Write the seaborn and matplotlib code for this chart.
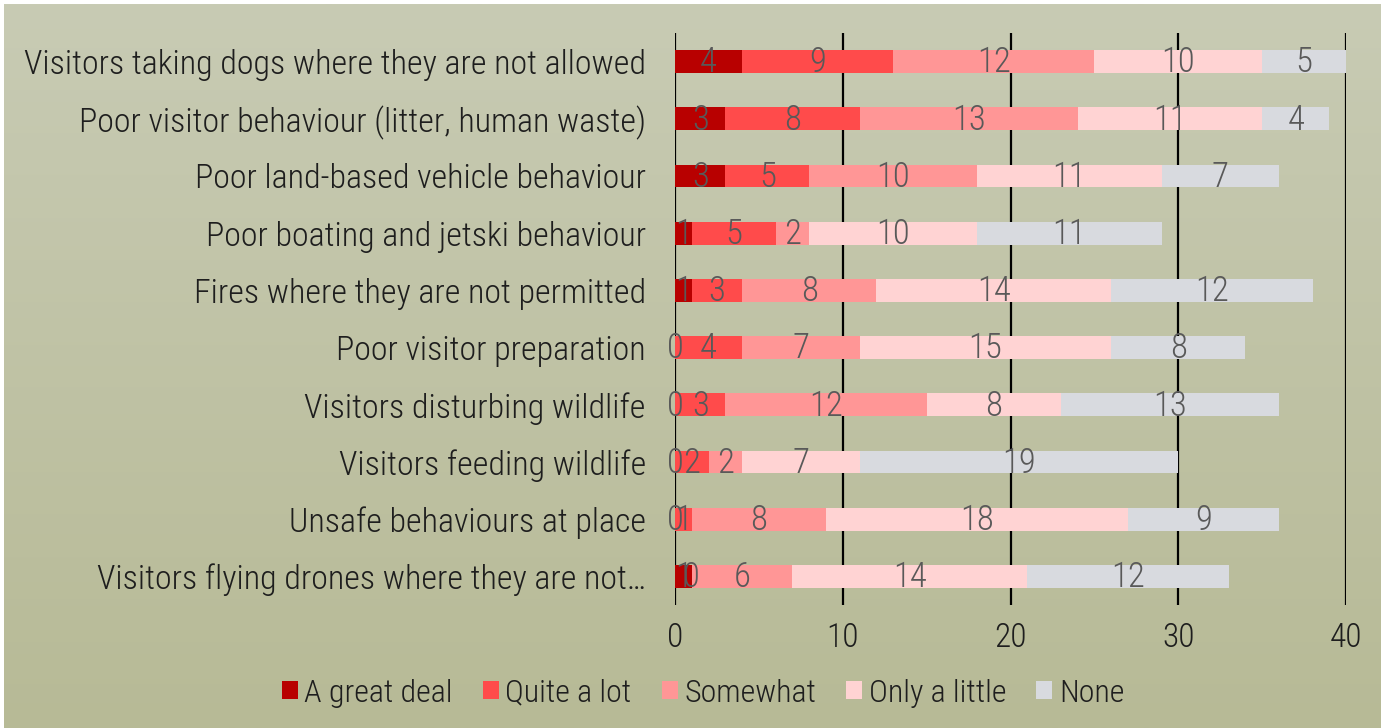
import numpy as np
import pandas as pd
import matplotlib.pyplot as plt
import seaborn as sns
from matplotlib.patches import Patch

# chart data
categories = [
    "Visitors taking dogs where they are not allowed",
    "Poor visitor behaviour (litter, human waste)",
    "Poor land-based vehicle behaviour",
    "Poor boating and jetski behaviour",
    "Fires where they are not permitted",
    "Poor visitor preparation",
    "Visitors disturbing wildlife",
    "Visitors feeding wildlife",
    "Unsafe behaviours at place",
    "Visitors flying drones where they are not\u2026",
]
great_deal = [4, 3, 3, 1, 1, 0, 0, 0, 0, 1]
quite_a_lot = [9, 8, 5, 5, 3, 4, 3, 2, 1, 0]
somewhat = [12, 13, 10, 2, 8, 7, 12, 2, 8, 6]
only_a_little = [10, 11, 11, 10, 14, 15, 8, 7, 18, 14]
none = [5, 4, 7, 11, 12, 8, 13, 19, 9, 12]

series_names = ["A great deal", "Quite a lot", "Somewhat", "Only a little", "None"]
colors = ["#B80000", "#FF4B4B", "#FF9696", "#FFD3D3", "#D8DADF"]

data = pd.DataFrame({
    "Category": categories,
    "A great deal": great_deal,
    "Quite a lot": quite_a_lot,
    "Somewhat": somewhat,
    "Only a little": only_a_little,
    "None": none,
})

plt.rcParams["font.family"] = ["Roboto Condensed", "Archivo Narrow",
                               "Liberation Sans", "DejaVu Sans"]
plt.rcParams["font.weight"] = "light"

fig = plt.figure(figsize=(13.81, 7.28), dpi=100)
fig.patch.set_facecolor("white")

# gradient background
bg = fig.add_axes([0.003, 0, 0.997, 0.994], zorder=-1)
top = np.array([200, 203, 180]) / 255
bottom = np.array([183, 186, 150]) / 255
t = np.linspace(0, 1, 256)[:, None]
grad = (top[None, :] * (1 - t) + bottom[None, :] * t)[:, None, :]
bg.imshow(grad, aspect="auto", extent=[0, 1, 0, 1])
bg.axis("off")

ax = fig.add_axes([0.4888, 0.169, 0.4859, 0.7857])
ax.patch.set_alpha(0)

# stacked bars: draw cumulative totals from the largest down
cum = data[series_names].cumsum(axis=1)
for name, col in reversed(list(zip(series_names, colors))):
    sns.barplot(x=cum[name], y=data["Category"], orient="h", color=col,
                width=0.4, ax=ax, zorder=3, saturation=1)

# segment labels
for i in range(len(categories)):
    for name in series_names:
        val = data.loc[i, name]
        center = cum.loc[i, name] - val / 2
        ax.text(center, i + 0.02, str(val), ha="center", va="center",
                fontsize=25, color="#595959", zorder=4)

ax.set_xlim(0, 40)
ax.set_ylim(len(categories) - 0.5, -0.5)
ax.set_xticks([0, 10, 20, 30, 40])
ax.xaxis.grid(True, color="black", linewidth=1.6)
ax.set_axisbelow(False)
for l in ax.get_xgridlines():
    l.set_zorder(2)
for s in ax.spines.values():
    s.set_visible(False)
ax.tick_params(axis="both", length=0, labelcolor="#1E1E1E")
ax.tick_params(axis="x", pad=12, labelsize=24)
ax.tick_params(axis="y", pad=21, labelsize=24.5)
for lbl in ax.get_yticklabels():
    lbl.set_verticalalignment("center_baseline")
ax.set_xlabel("")
ax.set_ylabel("")

handles = [Patch(facecolor=c, label=n) for n, c in zip(series_names, colors)]
fig.legend(handles=handles, loc="center", bbox_to_anchor=(0.509, 0.048),
           ncol=5, frameon=False, fontsize=23, handlelength=0.5,
           handleheight=0.5, handletextpad=0.2, columnspacing=0.95,
           labelcolor="#1E1E1E")

fig.savefig("out.png", dpi=100)
